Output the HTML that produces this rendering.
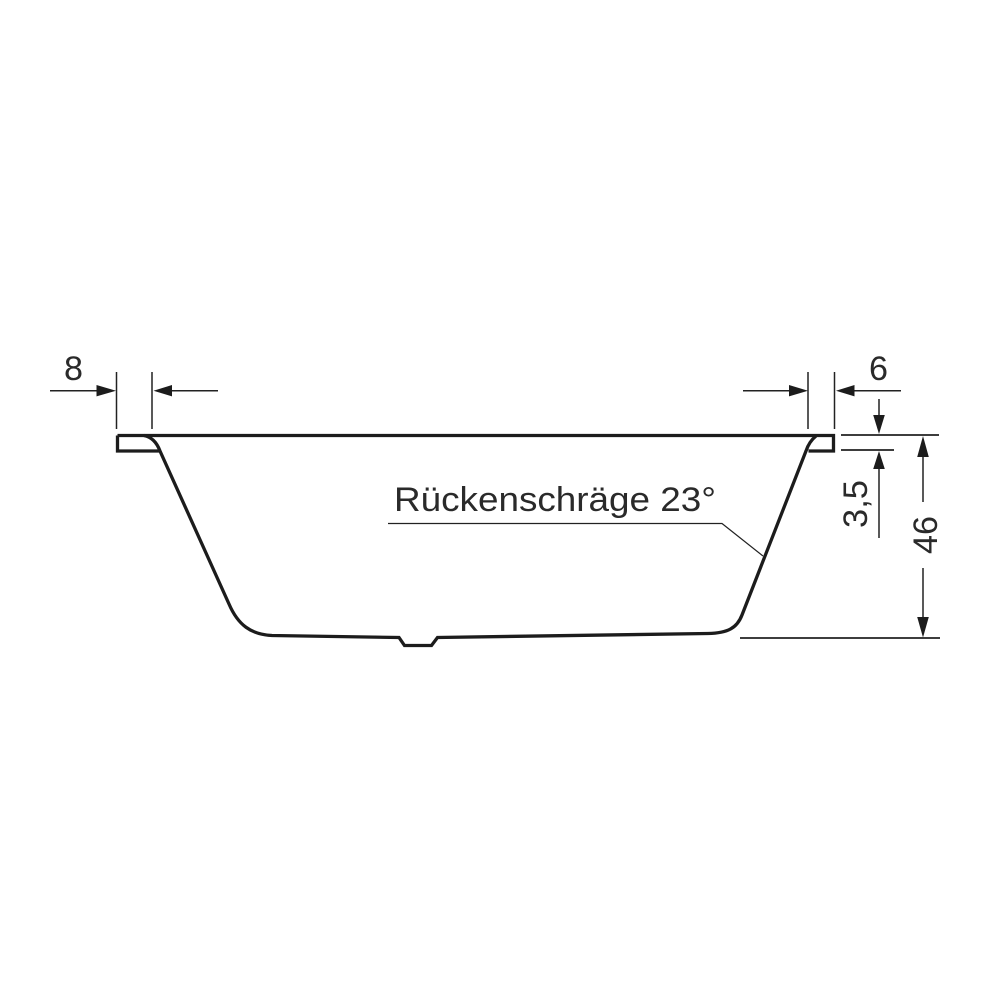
<!DOCTYPE html>
<html><head><meta charset="utf-8"><style>html,body{margin:0;padding:0;background:#fff}svg{display:block}text{font-family:"Liberation Sans",sans-serif;fill:#2a2a2a;font-size:34px}</style></head>
<body>
<svg width="1000" height="1000" viewBox="0 0 1000 1000" xmlns="http://www.w3.org/2000/svg">
<rect width="1000" height="1000" fill="#fff"/>
<!-- tub outline -->
<g fill="none" stroke="#1c1c1c" stroke-width="3.3" stroke-linejoin="miter">
<path d="M117.5 435.5H833.5V451H808.5M117.5 435.5V451H160"/>
<path d="M144 435.5C152 437 157 443 160 451L229 604C238 625 251 634.5 272 635.5L399 637.5L404.5 645.5H431.5L437.5 637.5L708 633.5C728 633 737 628 742 615L806 451C808 445 811 440 816 436"/>
</g>
<!-- dimension lines -->
<g fill="none" stroke="#222" stroke-width="1.5">
<path d="M116.5 372V429M152 372V429M808 372V429M834.5 372V429"/>
<path d="M50 390.7H100M170 390.7H218M743 390.7H792M852 390.7H901"/>
<path d="M879 399V418M879 465V538M923 455V502M923 568V620"/>
<path d="M841 435H939M841 450H894M740 638H940" stroke-width="1.7"/>
<path d="M388 523.5H722L763 556" stroke-width="1.2"/>
</g>
<!-- arrowheads -->
<g fill="#1c1c1c">
<path d="M116 390.7L96.5 385V396.4Z"/>
<path d="M153.5 390.7L172 385V396.4Z"/>
<path d="M808 390.7L789 385V396.4Z"/>
<path d="M836 390.7L854.5 385V396.4Z"/>
<path d="M879 434L873.2 415H884.8Z"/>
<path d="M879 451L873.2 469H884.8Z"/>
<path d="M923 436L917.2 457H928.8Z"/>
<path d="M923 637.5L917.2 617H928.8Z"/>
</g>
<!-- labels -->
<text x="64" y="380" textLength="19" lengthAdjust="spacingAndGlyphs" style="font-size:34px">8</text>
<text x="869" y="380" textLength="19" lengthAdjust="spacingAndGlyphs" style="font-size:34px">6</text>
<text x="394" y="511" textLength="322" lengthAdjust="spacingAndGlyphs">Rückenschräge 23°</text>
<text transform="translate(867 528) rotate(-90)" textLength="48" lengthAdjust="spacingAndGlyphs">3,5</text>
<text transform="translate(937 554) rotate(-90)" textLength="38" lengthAdjust="spacingAndGlyphs">46</text>
</svg>
</body></html>
